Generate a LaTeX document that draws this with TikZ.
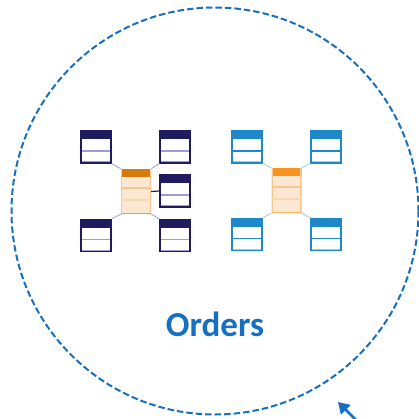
\documentclass[tikz,border=0pt]{standalone}
\usepackage{fontspec}
\setmainfont{Carlito}
\usetikzlibrary{arrows.meta}

\definecolor{navy}{HTML}{201A5E}
\definecolor{lilac}{HTML}{A29ECB}
\definecolor{tabblue}{HTML}{1E88C8}
\definecolor{paleblue}{HTML}{9DCBEA}
\definecolor{ordark}{HTML}{D57A0C}
\definecolor{orlight}{HTML}{F7931E}
\definecolor{orpale}{HTML}{FBE8D2}
\definecolor{orline}{HTML}{F6C690}
\definecolor{ringblue}{HTML}{1570C2}

\tikzset{
  tab/.style={minimum width=30pt, minimum height=32pt, inner sep=0pt, line width=1.2pt},
  navytab/.style={tab, draw=navy,
    path picture={
      \fill[navy] (path picture bounding box.north west) rectangle ([yshift=-8pt]path picture bounding box.north east);
      \draw[lilac, line width=1.6pt] ([yshift=-20pt]path picture bounding box.north west) -- ([yshift=-20pt]path picture bounding box.north east);
      \draw[lilac, line width=1.4pt] ([yshift=1.2pt]path picture bounding box.south west) -- ([yshift=1.2pt]path picture bounding box.south east);
    }},
  bluetab/.style={tab, draw=tabblue,
    path picture={
      \fill[tabblue] (path picture bounding box.north west) rectangle ([yshift=-8pt]path picture bounding box.north east);
      \draw[tabblue, line width=1.2pt] ([yshift=-20pt]path picture bounding box.north west) -- ([yshift=-20pt]path picture bounding box.north east);
      \draw[paleblue, line width=1.4pt] ([yshift=1.2pt]path picture bounding box.south west) -- ([yshift=1.2pt]path picture bounding box.south east);
    }},
  ortab/.style={minimum width=30pt, minimum height=45pt, inner sep=0pt, fill=orpale,
    path picture={
      \fill[#1] (path picture bounding box.north west) rectangle ([yshift=-8pt]path picture bounding box.north east);
      \draw[orline, line width=2.5pt] (path picture bounding box.north west) -- (path picture bounding box.south west);
      \draw[orline, line width=2.5pt] (path picture bounding box.north east) -- (path picture bounding box.south east);
      \draw[orline, line width=1.2pt] ([yshift=-19pt]path picture bounding box.north west) -- ([yshift=-19pt]path picture bounding box.north east);
      \draw[orline!70, line width=1.2pt] ([yshift=-31pt]path picture bounding box.north west) -- ([yshift=-31pt]path picture bounding box.north east);
      \draw[#1!70, line width=1.4pt] ([yshift=0.8pt]path picture bounding box.south west) -- ([yshift=0.8pt]path picture bounding box.south east);
    }},
  link/.style={line width=0.8pt},
}

\begin{document}
\begin{tikzpicture}[x=1pt, y=-1pt]
\useasboundingbox (0,0) rectangle (418,419);
% ring
\draw[ringblue, line width=2pt, dash pattern=on 6.5pt off 3pt] (215,211) circle (203.5);
% left model
\node[navytab] (lt) at (96,147) {};
\node[navytab] (rt) at (175,147) {};
\node[ortab=ordark] (lc) at (136,191.5) {};
\node[navytab] (lm) at (175,191) {};
\node[navytab] (lb) at (96,235.5) {};
\node[navytab] (rb) at (175,235.5) {};
\draw[link, lilac] (lt.south east) -- (lc.north west);
\draw[link, lilac] (rt.south west) -- (lc.north east);
\draw[link, lilac] (lb.north east) -- (lc.south west);
\draw[link, lilac] (rb.north west) -- (lc.south east);
\draw[link, navy, line width=1.2pt] (lc.east) -- (lm.west);
% right model
\node[bluetab] (blt) at (247,147) {};
\node[bluetab] (brt) at (326,147) {};
\node[ortab=orlight] (bc) at (286.5,190.5) {};
\node[bluetab] (blb) at (247,234.5) {};
\node[bluetab] (brb) at (326,234.5) {};
\draw[link, paleblue] (blt.south east) -- (bc.north west);
\draw[link, paleblue] (brt.south west) -- (bc.north east);
\draw[link, paleblue] (blb.north east) -- (bc.south west);
\draw[link, paleblue] (brb.north west) -- (bc.south east);
% label
\node[text=ringblue, font=\fontsize{35}{40}\selectfont\bfseries, anchor=base] (title) at (215,336) {Orders};
% pointer
\coordinate (ptail) at (364,428);
\coordinate (ptip) at (338,402);
\draw[ringblue, line width=2.6pt, -{Triangle[length=11pt, width=13pt]}] (ptail) -- (ptip);
\end{tikzpicture}
\end{document}
